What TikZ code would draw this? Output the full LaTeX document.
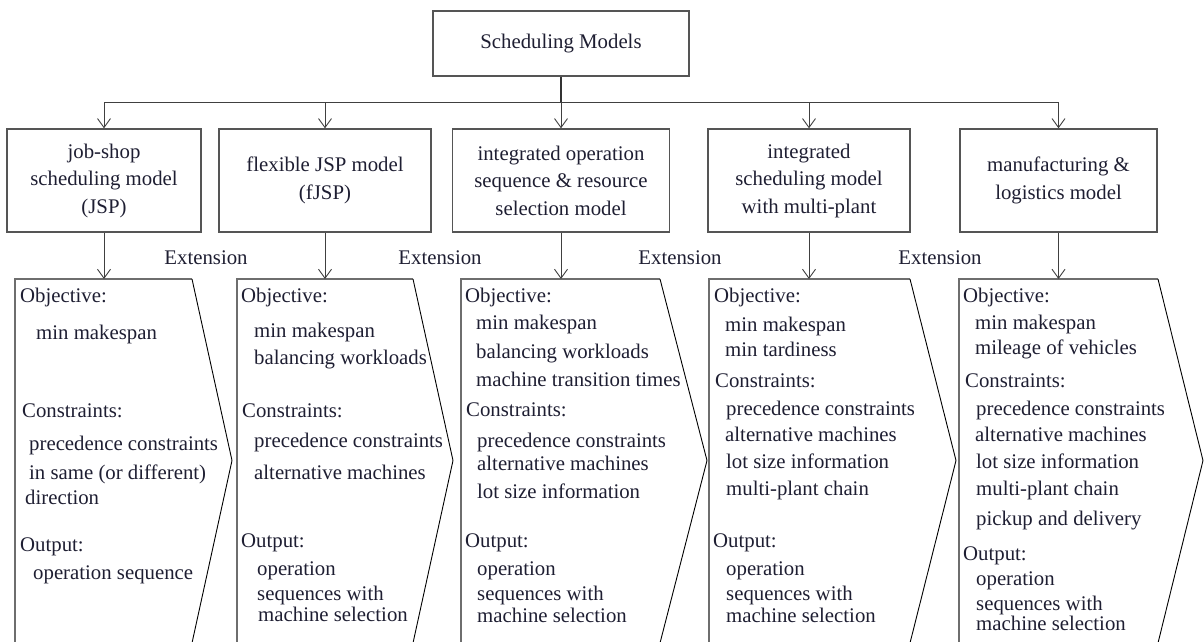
\documentclass[tikz,border=0pt]{standalone}
\usepackage{fontspec}
\setmainfont{Liberation Serif}
\newfontfamily\tms{Liberation Serif}
\usetikzlibrary{arrows.meta}
\definecolor{txt}{RGB}{30,30,50}
\definecolor{edge}{RGB}{85,85,85}
\begin{document}
\begin{tikzpicture}[x=1pt,y=-1pt,
  every node/.style={font=\tms\fontsize{20.8}{27.5}\selectfont, text=txt},
  box/.style={draw=edge, line width=1.4pt, minimum height=103pt, inner sep=0pt, align=center},
  ln/.style={anchor=west, inner sep=0pt, text height=0.7em, text depth=0.2em},
  conn/.style={draw=black!75, line width=0.9pt, -{Straight Barb[length=9pt,width=13pt,line width=0.9pt]}},
  chevside/.style={draw=edge!85, line width=1.4pt},
  chevtip/.style={draw=black, line width=0.9pt},
]
\useasboundingbox (0,0) rectangle (1204,642);

% top
\node[box, minimum width=256pt, minimum height=65pt] (top) at (561,43.5) {Scheduling Models};
\coordinate (j) at (561,102);

% model boxes
\node[box, minimum width=194pt] (b1) at (104,180.5) {job-shop\\scheduling model\\(JSP)};
\node[box, minimum width=212pt] (b2) at (325,180.5) {flexible JSP model\\(fJSP)};
\node[box, minimum width=217pt] (b3) at (561,180.5) {integrated operation\\sequence \& resource\\selection model};
\node[box, minimum width=202pt] (b4) at (809,180.5) {integrated\\scheduling model\\with multi-plant};
\node[box, minimum width=197pt] (b5) at (1058.5,180.5) {manufacturing \&\\logistics model};

\draw[line width=2pt, black!80] (top.south) -- (j);
\draw[conn] (j) -| (b1.north);
\draw[conn] (j) -| (b2.north);
\draw[conn] (j) -- (b3.north);
\draw[conn] (j) -| (b4.north);
\draw[conn] (j) -| (b5.north);

% extension labels
\node (e1) at (206,258) {Extension};
\node (e2) at (440,258) {Extension};
\node (e3) at (680,258) {Extension};
\node (e4) at (940,258) {Extension};

% chevrons
\coordinate (c1) at (104,279);
\coordinate (c2) at (325,279);
\coordinate (c3) at (561,279);
\coordinate (c4) at (809,279);
\coordinate (c5) at (1058.5,279);
\foreach \L/\T/\P in {15/192/232, 237/413/453, 461/660/707, 709/910/956, 959/1158/1203}{
  \draw[chevside] (\L,643) -- (\L,279) -- (\T,279);
  \draw[chevtip] (\T,279) -- (\P,460.5) -- (\T,643);
}
\draw[conn] (b1.south) -- (c1);
\draw[conn] (b2.south) -- (c2);
\draw[conn] (b3.south) -- (c3);
\draw[conn] (b4.south) -- (c4);
\draw[conn] (b5.south) -- (c5);

% panel 1
\node[ln] (p1a) at (20,300) {Objective:};
\node[ln] (p1b) at (36,337) {min makespan};
\node[ln] (p1c) at (22,415) {Constraints:};
\node[ln] (p1d) at (29,448) {precedence constraints};
\node[ln] (p1e) at (29,477) {in same (or different)};
\node[ln] (p1f) at (25,502) {direction};
\node[ln] (p1g) at (20,549) {Output:};
\node[ln] (p1h) at (33,577) {operation sequence};

% panel 2
\node[ln] (p2a) at (241,300) {Objective:};
\node[ln] (p2b) at (254,335) {min makespan};
\node[ln] (p2c) at (254,362) {balancing workloads};
\node[ln] (p2d) at (242,415) {Constraints:};
\node[ln] (p2e) at (254,445) {precedence constraints};
\node[ln] (p2f) at (254,477) {alternative machines};
\node[ln] (p2g) at (241,545) {Output:};
\node[ln] (p2h) at (257,573) {operation};
\node[ln] (p2i) at (257,598) {sequences with};
\node[ln] (p2j) at (258,619) {machine selection};

% panel 3
\node[ln] (p3a) at (465,300) {Objective:};
\node[ln] (p3b) at (476,327) {min makespan};
\node[ln] (p3c) at (476,356) {balancing workloads};
\node[ln] (p3d) at (476,384) {machine transition times};
\node[ln] (p3e) at (466,414) {Constraints:};
\node[ln] (p3f) at (477,445) {precedence constraints};
\node[ln] (p3g) at (477,468) {alternative machines};
\node[ln] (p3h) at (477,496) {lot size information};
\node[ln] (p3i) at (465,545) {Output:};
\node[ln] (p3j) at (477,573) {operation};
\node[ln] (p3k) at (477,598) {sequences with};
\node[ln] (p3l) at (477,620) {machine selection};

% panel 4
\node[ln] (p4a) at (714,300) {Objective:};
\node[ln] (p4b) at (725,329) {min makespan};
\node[ln] (p4c) at (725,354) {min tardiness};
\node[ln] (p4d) at (715,385) {Constraints:};
\node[ln] (p4e) at (726,413) {precedence constraints};
\node[ln] (p4f) at (725,439) {alternative machines};
\node[ln] (p4g) at (726,466) {lot size information};
\node[ln] (p4h) at (726,493) {multi-plant chain};
\node[ln] (p4i) at (713,545) {Output:};
\node[ln] (p4j) at (726,573) {operation};
\node[ln] (p4k) at (726,598) {sequences with};
\node[ln] (p4l) at (726,620) {machine selection};

% panel 5
\node[ln] (p5a) at (963,300) {Objective:};
\node[ln] (p5b) at (975,327) {min makespan};
\node[ln] (p5c) at (975,352) {mileage of vehicles};
\node[ln] (p5d) at (965,385) {Constraints:};
\node[ln] (p5e) at (976,413) {precedence constraints};
\node[ln] (p5f) at (975,439) {alternative machines};
\node[ln] (p5g) at (976,466) {lot size information};
\node[ln] (p5h) at (976,493) {multi-plant chain};
\node[ln] (p5i) at (976,523) {pickup and delivery};
\node[ln] (p5j) at (963,558) {Output:};
\node[ln] (p5k) at (976,583) {operation};
\node[ln] (p5l) at (976,608) {sequences with};
\node[ln] (p5m) at (976,628) {machine selection};
\end{tikzpicture}
\end{document}
